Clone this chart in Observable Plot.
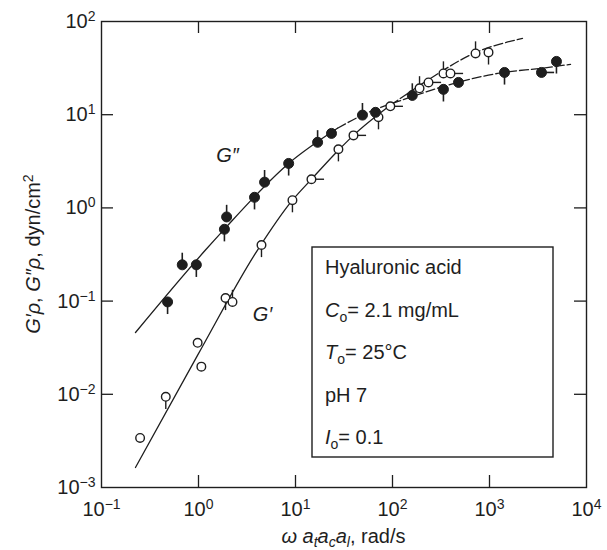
<!DOCTYPE html>
<html><head><meta charset="utf-8">
<script src="https://cdn.jsdelivr.net/npm/d3@7"></script>
<script src="https://cdn.jsdelivr.net/npm/@observablehq/plot@0.6"></script>
<style>
body{margin:0;background:#fff;}
#chart{width:607px;height:550px;}
svg{display:block;}
</style></head><body><div id="chart"></div>
<script>
// ---- data ----
// G'' (filled circles)
const gDoubleX = [0.48,0.68,0.95,1.85,1.95,3.78,4.8,8.5,16.9,23.5,49,66.8,160,335,479,1428,3436,4900];
const gDoubleY = [0.098,0.245,0.245,0.59,0.8,1.3,1.89,3.0,5.06,6.3,9.9,10.6,16.1,18.7,22.2,28.4,28.4,37.3];
const gDoubleFlag = ["d","u","d","d","u","d","u","d","u","","u","","u","d","","d","r","d"];
// G' (open circles)
const gPrimeX = [0.25,0.46,0.98,1.07,1.9,2.24,4.46,9.3,14.6,27.7,39.6,71.7,95,190,235,335,396,718,977];
const gPrimeY = [0.0034,0.0094,0.0357,0.0198,0.108,0.098,0.4,1.21,2.03,4.26,6.0,9.4,12.3,19.2,22.2,27.7,27.7,45.4,46.6];
const gPrimeFlag = ["","d","","","d","u","d","d","r","d","r","d","r","u","r","u","r","u","d"];
// fitted curves
const fitDoubleX = [0.224,1.18,1.81,8.5,27.1,49,153,468,1393,3357,6840];
const fitDoubleY = [0.046,0.353,0.578,3.0,7.15,9.9,15.4,22.2,28.4,31.4,34.7];
const fitPrimeX = [0.224,0.98,4.06,9.3,14.6,27.7,39.6,95,246,684,2188];
const fitPrimeY = [0.00164,0.0263,0.353,1.21,2.03,4.16,6.0,12.6,24.5,45.4,65.8];
// curve labels
const curveLabels = [{x:1.99, y:3.67, t:"G\u2033"}, {x:4.57, y:0.071, t:"G\u2032"}];
// ticks
const xTicks = [0.1,1,10,100,1000,10000];
const yTicks = [0.001,0.01,0.1,1,10,100];
const legendLines = ["Hyaluronic acid","C|o|= 2.1 mg/mL","T|o|= 25\u00B0C","pH 7","I|o|= 0.1"];

// ---- build ----
const W=607,H=550,mL=101,mR=21,mT=21,mB=63;
const innerW=W-mL-mR, innerH=H-mT-mB, tk=12;
const ink="#1e1e1e";
const pts = (xs,ys,fl)=>xs.map((x,i)=>({x, y:ys[i], f:fl[i]}));
const dbl = pts(gDoubleX,gDoubleY,gDoubleFlag);
const prm = pts(gPrimeX,gPrimeY,gPrimeFlag);
const k = Math.pow(10,0.13);
function whiskers(arr){
  return arr.filter(d=>d.f).map(d=>({
    x1:d.x, y1:d.y,
    x2: d.f==="r" ? d.x*k : d.x,
    y2: d.f==="u" ? d.y*k : d.f==="d" ? d.y/k : d.y
  }));
}
const fitD = fitDoubleX.map((x,i)=>({x,y:fitDoubleY[i]}));
const fitP = fitPrimeX.map((x,i)=>({x,y:fitPrimeY[i]}));
const fmt = d => "10^" + Math.round(Math.log10(d));

const plot = Plot.plot({
  width:W, height:H, marginLeft:mL, marginRight:mR, marginTop:mT, marginBottom:mB,
  style:{fontFamily:"'Liberation Sans', Arial, sans-serif", fontSize:"20px", color:ink, background:"#fff"},
  x:{type:"log", domain:[0.1,10000], ticks:xTicks, tickFormat:fmt, tickSize:0, tickPadding:14, label:null},
  y:{type:"log", domain:[0.001,100], ticks:yTicks, tickFormat:fmt, tickSize:0, tickPadding:6, label:null},
  marks:[
    Plot.ruleX(xTicks.slice(1,-1), {x:d=>d, insetTop:innerH-tk, stroke:ink, strokeWidth:1.3}),
    Plot.ruleX(xTicks.slice(1,-1), {x:d=>d, insetBottom:innerH-tk, stroke:ink, strokeWidth:1.3}),
    Plot.ruleY(yTicks.slice(1,-1), {y:d=>d, insetRight:innerW-tk, stroke:ink, strokeWidth:1.3}),
    Plot.ruleY(yTicks.slice(1,-1), {y:d=>d, insetLeft:innerW-tk, stroke:ink, strokeWidth:1.3}),
    Plot.frame({stroke:ink, strokeWidth:1.4}),
    Plot.line(fitD.slice(0,5), {x:"x", y:"y", curve:"monotone-x", stroke:ink, strokeWidth:1.3}),
    Plot.line(fitD.slice(4), {x:"x", y:"y", curve:"monotone-x", stroke:ink, strokeWidth:1.3, strokeDasharray:"9,3"}),
    Plot.line(fitP.slice(0,8), {x:"x", y:"y", curve:"monotone-x", stroke:ink, strokeWidth:1.3}),
    Plot.line(fitP.slice(7), {x:"x", y:"y", curve:"monotone-x", stroke:ink, strokeWidth:1.3, strokeDasharray:"9,3"}),
    Plot.link(whiskers(dbl), {x1:"x1", y1:"y1", x2:"x2", y2:"y2", stroke:ink, strokeWidth:1.6}),
    Plot.link(whiskers(prm), {x1:"x1", y1:"y1", x2:"x2", y2:"y2", stroke:ink, strokeWidth:1.4}),
    Plot.dot(prm, {x:"x", y:"y", r:4.3, fill:"#fff", stroke:ink, strokeWidth:1.4}),
    Plot.dot(dbl, {x:"x", y:"y", r:5, fill:ink, stroke:ink, strokeWidth:1}),
    Plot.text(curveLabels, {x:"x", y:"y", text:"t", fontStyle:"italic", fontSize:20, fill:ink})
  ]
});

const ns="http://www.w3.org/2000/svg";
function el(tag, attrs, text){
  const e=document.createElementNS(ns,tag);
  for(const a in attrs) e.setAttribute(a, attrs[a]);
  if(text!=null) e.textContent=text;
  return e;
}
// superscript tick labels
plot.querySelectorAll('g[aria-label$="tick label"] text').forEach(t=>{
  const m = t.textContent.match(/^10\^(-?\d+)$/);
  if(!m) return;
  while(t.firstChild) t.removeChild(t.firstChild);
  t.append(el("tspan",{},"10"), el("tspan",{dy:"-7","font-size":"14"}, m[1].replace("-","\u2212")));
});

// axis titles
const xt = el("text",{x:(mL+W-mR)/2, y:543, "text-anchor":"middle", "font-size":20, fill:ink});
xt.append(
  el("tspan",{"font-style":"italic"},"\u03C9 a"),
  el("tspan",{"font-style":"italic","font-size":14,dy:4},"t"),
  el("tspan",{"font-style":"italic",dy:-4},"a"),
  el("tspan",{"font-style":"italic","font-size":14,dy:4},"c"),
  el("tspan",{"font-style":"italic",dy:-4},"a"),
  el("tspan",{"font-style":"italic","font-size":14,dy:4},"l"),
  el("tspan",{dy:-4},", rad/s")
);
plot.append(xt);
const yt = el("text",{transform:`translate(40,${(mT+H-mB)/2}) rotate(-90)`, "text-anchor":"middle", "font-size":20, fill:ink});
yt.append(
  el("tspan",{"font-style":"italic"},"G\u2032\u03C1"),
  el("tspan",{},", "),
  el("tspan",{"font-style":"italic"},"G\u2033\u03C1"),
  el("tspan",{},", dyn/cm"),
  el("tspan",{"font-size":14,dy:-7},"2")
);
plot.append(yt);

// info box
const g = el("g",{"text-anchor":"start"});
g.append(el("rect",{x:312, y:247, width:241, height:210, fill:"#fff", stroke:ink, "stroke-width":1.4}));
legendLines.forEach((s,i)=>{
  const t = el("text",{x:325, y:274+42.5*i, "font-size":20, fill:ink, "text-anchor":"start"});
  const parts = s.split("|");
  if(parts.length===3){
    t.append(
      el("tspan",{"font-style":"italic"},parts[0]),
      el("tspan",{"font-size":14,dy:5},parts[1]),
      el("tspan",{dy:-5},parts[2])
    );
  } else t.textContent = s;
  g.append(t);
});
plot.append(g);

document.getElementById("chart").append(plot);
</script>
</body></html>
